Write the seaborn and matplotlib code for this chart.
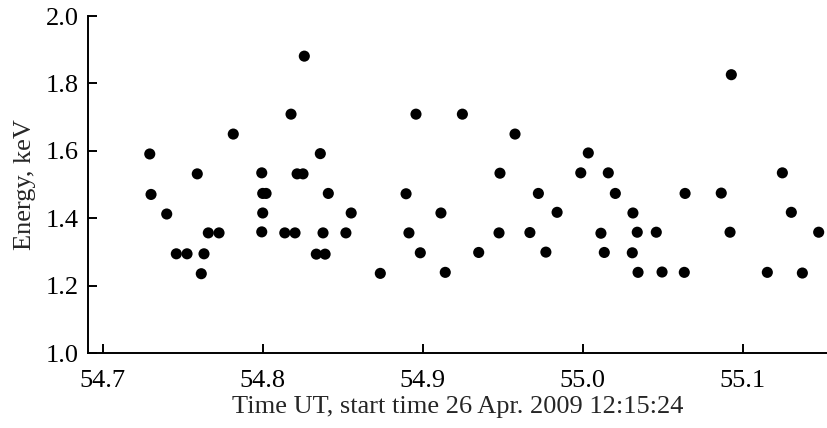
import pandas as pd
import matplotlib.pyplot as plt
import seaborn as sns

# time (min) and energy (keV)
time_ut = [54.7294, 54.7302, 54.7400, 54.7460, 54.7527, 54.7591, 54.7616, 54.7633,
           54.7660, 54.7727, 54.7816, 54.7994, 54.8000, 54.8021, 54.8000, 54.7994,
           54.8138, 54.8202, 54.8177, 54.8260, 54.8215, 54.8252, 54.8360, 54.8410,
           54.8377, 54.8335, 54.8390, 54.8520, 54.8553, 54.8735, 54.8896, 54.8914,
           54.8958, 54.8985, 54.9114, 54.9141, 54.9248, 54.9350, 54.9483, 54.9477,
           54.9577, 54.9670, 54.9723, 54.9770, 54.9840, 54.9988, 55.0035, 55.0160,
           55.0204, 55.0114, 55.0135, 55.0314, 55.0341, 55.0310, 55.0346, 55.0460,
           55.0496, 55.0640, 55.0635, 55.0866, 55.0929, 55.0921, 55.1154, 55.1248,
           55.1304, 55.1373, 55.1475]
energy = [1.591, 1.471, 1.413, 1.295, 1.295, 1.532, 1.236, 1.295,
          1.357, 1.357, 1.650, 1.535, 1.474, 1.474, 1.416, 1.360,
          1.357, 1.357, 1.709, 1.881, 1.532, 1.532, 1.592, 1.474,
          1.357, 1.294, 1.294, 1.357, 1.416, 1.237, 1.473, 1.357,
          1.709, 1.298, 1.416, 1.240, 1.709, 1.299, 1.534, 1.357,
          1.650, 1.358, 1.474, 1.300, 1.418, 1.535, 1.594, 1.535,
          1.474, 1.356, 1.299, 1.416, 1.359, 1.298, 1.240, 1.359,
          1.241, 1.474, 1.240, 1.475, 1.826, 1.359, 1.240, 1.535,
          1.418, 1.238, 1.359]

x_ticks = [54.7, 54.8, 54.9, 55.0, 55.1]
y_ticks = [1.0, 1.2, 1.4, 1.6, 1.8, 2.0]

df = pd.DataFrame({'time': time_ut, 'energy': energy})

sns.set_style('ticks')
plt.rcParams['font.family'] = ['Liberation Serif', 'DejaVu Serif']

fig = plt.figure(figsize=(8.27, 4.28), dpi=100)
ax = fig.add_axes([0.1068, 0.1745, 0.8932, 0.7881])

sns.scatterplot(data=df, x='time', y='energy', ax=ax, color='black',
                s=64, edgecolor='none', clip_on=False)

ax.set_xlim(54.691, 55.1527)
ax.set_ylim(1.0, 2.0)
ax.set_xticks(x_ticks)
ax.set_xticklabels([f'{t:.1f}' for t in x_ticks])
ax.set_yticks(y_ticks)
ax.set_yticklabels([f'{t:.1f}' for t in y_ticks])

for side in ['top', 'right']:
    ax.spines[side].set_visible(False)
for side in ['left', 'bottom']:
    ax.spines[side].set_linewidth(1.4)
    ax.spines[side].set_color('black')

ax.tick_params(direction='in', length=6.5, width=1.4, labelsize=19,
               colors='black')
ax.tick_params(axis='x', pad=12)
ax.tick_params(axis='y', pad=7)
ax.set_xlabel('Time UT, start time 26 Apr. 2009 12:15:24', fontsize=19, labelpad=3)
ax.set_ylabel('Energy, keV', fontsize=19, labelpad=7)

fig.savefig('out.png', dpi=100)
